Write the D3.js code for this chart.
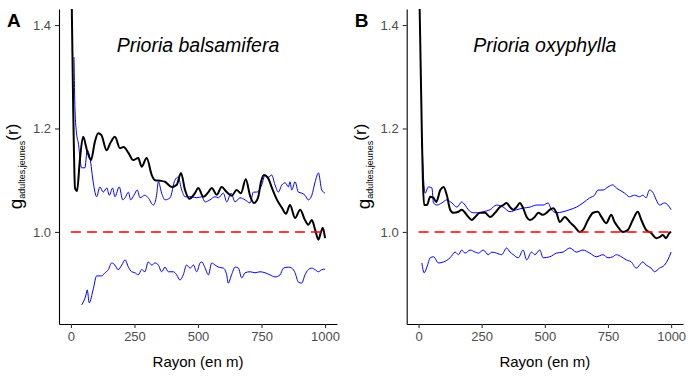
<!DOCTYPE html>
<html>
<head>
<meta charset="utf-8">
<script src="https://cdn.jsdelivr.net/npm/d3@7"></script>
<style>
body { margin: 0; background: #fff; }
svg { display: block; font-family: "Liberation Sans", Arial, sans-serif; }
</style>
</head>
<body>
<div class="chartsWrapper"></div>
<script>

// values: [rayon (m), g(r)]
var xTicks = [0, 250, 500, 750, 1000]
var yTicks = [1.0, 1.2, 1.4]
var panelLetters = ['A', 'B']
var speciesNames = ['Prioria balsamifera', 'Prioria oxyphylla']

var balsObserved = [[0,1.55],[9,1.236],[16,1.085],[24,1.079],[35,1.139],[48,1.184],[63,1.158],[79,1.139],[94,1.174],
  [107,1.191],[120,1.187],[140,1.158],[157,1.174],[173,1.184],[193,1.162],[207,1.164],[226,1.153],[245,1.139],
  [265,1.143],[278,1.126],[298,1.143],[318,1.110],[331,1.100],[350,1.099],[370,1.097],[396,1.087],[416,1.091],
  [433,1.114],[449,1.081],[466,1.064],[488,1.075],[501,1.085],[521,1.068],[541,1.077],[554,1.085],[574,1.072],
  [593,1.087],[613,1.077],[633,1.070],[652,1.081],[669,1.075],[688,1.102],[705,1.070],[720,1.056],[736,1.066],
  [748,1.097],[760,1.110],[776,1.104],[791,1.085],[811,1.062],[831,1.046],[846,1.035],[862,1.052],[882,1.027],
  [902,1.043],[921,1.023],[934,1.014],[948,1.023],[961,1.004],[974,0.985],[984,1.000],[991,1.008],[1000,0.988]]

var balsUpper = [[12,1.338],[16,1.236],[22,1.191],[29,1.172],[42,1.124],[55,1.124],[64,1.158],[75,1.143],[88,1.095],
  [101,1.068],[114,1.087],[127,1.077],[141,1.085],[151,1.071],[164,1.085],[173,1.068],[190,1.087],[204,1.062],
  [213,1.066],[226,1.077],[235,1.062],[248,1.071],[261,1.081],[272,1.066],[291,1.071],[304,1.066],[324,1.052],
  [337,1.071],[344,1.097],[357,1.075],[370,1.062],[390,1.066],[409,1.100],[422,1.106],[436,1.081],[449,1.068],
  [475,1.068],[495,1.066],[515,1.068],[528,1.058],[547,1.062],[567,1.068],[580,1.066],[600,1.075],[613,1.058],
  [630,1.075],[646,1.058],[665,1.066],[685,1.062],[705,1.056],[718,1.077],[731,1.077],[751,1.091],[764,1.110],
  [777,1.106],[790,1.110],[803,1.091],[816,1.077],[830,1.091],[843,1.095],[856,1.087],[862,1.097],[869,1.081],
  [882,1.097],[895,1.077],[908,1.075],[921,1.071],[934,1.062],[948,1.071],[961,1.097],[974,1.114],[987,1.081],
  [1000,1.075]]

var balsLower = [[42,0.859],[59,0.878],[64,0.888],[72,0.863],[88,0.890],[101,0.915],[121,0.915],[134,0.921],
  [147,0.927],[160,0.940],[173,0.936],[186,0.927],[200,0.936],[213,0.946],[226,0.932],[239,0.923],[252,0.921],
  [265,0.917],[278,0.927],[291,0.923],[304,0.942],[318,0.936],[331,0.940],[344,0.936],[357,0.923],[370,0.932],
  [383,0.923],[403,0.923],[416,0.917],[429,0.907],[442,0.917],[455,0.936],[469,0.930],[482,0.936],[495,0.923],
  [508,0.940],[515,0.942],[528,0.930],[541,0.917],[554,0.940],[567,0.936],[580,0.932],[600,0.930],[613,0.917],
  [619,0.901],[632,0.917],[646,0.932],[659,0.930],[672,0.911],[685,0.921],[705,0.923],[724,0.921],[744,0.923],
  [764,0.921],[783,0.917],[803,0.913],[823,0.917],[836,0.930],[856,0.932],[869,0.930],[882,0.921],[895,0.903],
  [908,0.901],[921,0.917],[934,0.927],[948,0.930],[961,0.927],[974,0.923],[987,0.927],[1000,0.928]]

var oxyObserved = [[0,1.55],[13,1.191],[17,1.100],[22,1.052],[33,1.052],[46,1.068],[59,1.066],[70,1.058],[86,1.081],
  [99,1.087],[112,1.071],[125,1.043],[138,1.037],[158,1.039],[171,1.043],[184,1.037],[197,1.029],[211,1.023],
  [224,1.029],[243,1.037],[263,1.037],[283,1.029],[303,1.037],[322,1.048],[335,1.052],[349,1.056],[362,1.048],
  [375,1.043],[388,1.048],[401,1.056],[414,1.046],[428,1.029],[441,1.023],[460,1.029],[474,1.037],[493,1.033],
  [507,1.037],[520,1.043],[533,1.046],[546,1.037],[559,1.019],[579,1.029],[599,1.019],[618,1.010],[638,1.000],
  [651,1.004],[671,1.023],[691,1.037],[710,1.039],[724,1.029],[743,1.017],[763,1.033],[776,1.019],[789,1.010],
  [809,1.000],[829,1.004],[848,1.023],[868,1.039],[882,1.023],[901,1.004],[921,0.998],[941,0.988],[954,0.990],
  [967,0.994],[980,0.988],[993,0.998],[1000,1.000]]

var oxyUpper = [[13,1.184],[19,1.110],[26,1.075],[39,1.087],[53,1.085],[59,1.056],[73,1.052],[92,1.056],[112,1.062],
  [132,1.056],[152,1.048],[171,1.058],[184,1.052],[197,1.043],[217,1.037],[237,1.037],[256,1.039],[283,1.043],
  [309,1.052],[335,1.048],[362,1.039],[388,1.043],[414,1.046],[441,1.048],[467,1.052],[493,1.052],[513,1.056],
  [526,1.043],[546,1.037],[572,1.039],[599,1.043],[625,1.048],[651,1.056],[678,1.066],[697,1.071],[710,1.081],
  [730,1.081],[750,1.087],[769,1.091],[783,1.085],[796,1.081],[816,1.075],[835,1.068],[855,1.071],[875,1.068],
  [888,1.071],[901,1.066],[914,1.081],[927,1.077],[941,1.062],[954,1.052],[974,1.056],[987,1.052],[1000,1.043]]

var oxyLower = [[13,0.940],[22,0.921],[33,0.932],[46,0.950],[59,0.952],[79,0.940],[99,0.942],[125,0.950],[145,0.961],
  [158,0.956],[171,0.965],[184,0.959],[204,0.965],[224,0.961],[237,0.959],[256,0.965],[276,0.956],[290,0.961],
  [309,0.959],[329,0.956],[349,0.969],[362,0.961],[375,0.956],[395,0.950],[414,0.965],[428,0.946],[447,0.961],
  [460,0.956],[480,0.965],[493,0.950],[520,0.952],[546,0.959],[572,0.961],[599,0.969],[625,0.961],[651,0.965],
  [678,0.959],[704,0.952],[730,0.956],[750,0.950],[769,0.952],[783,0.956],[803,0.952],[822,0.946],[842,0.942],
  [862,0.930],[875,0.936],[888,0.942],[901,0.936],[921,0.930],[934,0.923],[954,0.930],[974,0.936],[987,0.946],
  [1000,0.961]]

var refLine = [[0,1],[1000,1]]

var width = 700, height = 380
var svg = d3.select('.chartsWrapper').append('svg')
  .attr('width', width)
  .attr('height', height)

var panels = [
  {left: 59, right: 337, obs: balsObserved, upper: balsUpper, lower: balsLower},
  {left: 406.7, right: 683, obs: oxyObserved, upper: oxyUpper, lower: oxyLower}
]
// "top" is taken by window.top, hence the longer names
var plotTop = 9, plotBottom = 324

var y = d3.scaleLinear().domain([0.822, 1.431]).range([plotBottom, plotTop])

panels.forEach(function(p, i) {
  var x = d3.scaleLinear().domain([-47, 1047]).range([p.left, p.right])
  var g = svg.append('g')

  g.append('clipPath').attr('id', 'clip' + i)
    .append('rect')
    .attr('x', p.left).attr('y', plotTop)
    .attr('width', p.right - p.left).attr('height', plotBottom - plotTop)

  var line = d3.line()
    .curve(d3.curveMonotoneX)
    .x(function(d) { return x(d[0]) })
    .y(function(d) { return y(d[1]) })

  var plot = g.append('g').attr('clip-path', 'url(#clip' + i + ')')

  plot.selectAll('.env')
    .data([p.upper, p.lower])
    .enter()
    .append('path')
    .attr('class', 'env')
    .attr('d', line)
    .attr('fill', 'none')
    .attr('stroke', '#0000ff')
    .attr('stroke-width', 1)

  plot.append('path')
    .attr('d', line(p.obs))
    .attr('fill', 'none')
    .attr('stroke', '#000')
    .attr('stroke-width', 2)
    .attr('stroke-linejoin', 'round')

  plot.append('path')
    .attr('d', line(refLine))
    .attr('fill', 'none')
    .attr('stroke', '#ff0000')
    .attr('stroke-width', 1.6)
    .attr('stroke-dasharray', '10,6')

  // axes
  var xAxis = g.append('g')
    .attr('transform', 'translate(0,' + plotBottom + ')')
    .call(d3.axisBottom(x).tickValues(xTicks).tickFormat(d3.format('d')).tickSize(4).tickPadding(4).tickSizeOuter(0))
  var yAxis = g.append('g')
    .attr('transform', 'translate(' + p.left + ',0)')
    .call(d3.axisLeft(y).tickValues(yTicks).tickFormat(d3.format('.1f')).tickSize(4).tickPadding(4).tickSizeOuter(0))

  ;[xAxis, yAxis].forEach(function(a) {
    a.select('.domain').attr('stroke', '#000').attr('stroke-width', 1.1)
    a.selectAll('.tick line').attr('stroke', '#333').attr('stroke-width', 1.1)
    a.selectAll('.tick text').attr('fill', '#4d4d4d')
      .style('font-size', '13px')
      .style('font-family', '"Liberation Sans", Arial, sans-serif')
  })

  var mid = (p.left + p.right) / 2

  g.append('text')
    .attr('x', mid).attr('y', 367)
    .attr('text-anchor', 'middle')
    .style('font-size', '15px')
    .attr('fill', '#000')
    .text('Rayon (en m)')

  var yl = g.append('text')
    .attr('transform', 'translate(' + (p.left - 37) + ',' + ((plotTop + plotBottom) / 2) + ') rotate(-90)')
    .attr('text-anchor', 'middle')
    .attr('fill', '#000')
  yl.append('tspan').style('font-size', '19px').text('g')
  yl.append('tspan').style('font-size', '9px').attr('dy', 3).text('adultes,jeunes')
  yl.append('tspan').style('font-size', '17px').attr('dy', -7).text('(r)')

  g.append('text')
    .attr('x', mid).attr('y', 52)
    .attr('text-anchor', 'middle')
    .style('font-size', '19.5px')
    .style('font-style', 'italic')
    .text(speciesNames[i])

  g.append('text')
    .attr('x', p.left - 52).attr('y', 27)
    .style('font-size', '19px')
    .style('font-weight', 'bold')
    .text(panelLetters[i])
})

</script>
</body>
</html>
